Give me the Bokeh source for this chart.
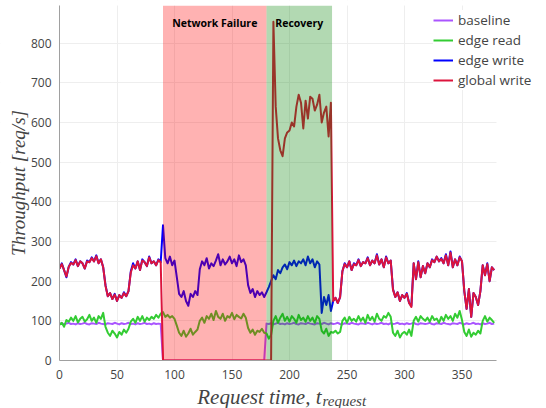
from bokeh.plotting import figure
from bokeh.models import (Range1d, BoxAnnotation, Label, Legend, LegendItem,
                          ColumnDataSource, FixedTicker)
from bokeh.embed import file_html
from bokeh.resources import INLINE

# ---------------- data ----------------
time = list(range(0, 380, 2))

baseline = [
    92, 94, 91, 93, 95, 92, 93, 91, 94, 92,
    93, 95, 92, 91, 94, 93, 92, 95, 93, 92,
    91, 94, 93, 92, 95, 93, 91, 94, 92, 93,
    95, 92, 93, 91, 94, 92, 93, 95, 92, 93,
    91, 94, 92, 93, 92, 0, 0, 0, 0, 0,
    0, 0, 0, 0, 0, 0, 0, 0, 0, 0,
    0, 0, 0, 0, 0, 0, 0, 0, 0, 0,
    0, 0, 0, 0, 0, 0, 0, 0, 0, 0,
    0, 0, 0, 0, 0, 0, 0, 0, 0, 0,
    93, 92, 94, 91, 93, 95, 92, 93, 91, 94,
    92, 93, 95, 92, 91, 94, 93, 92, 95, 93,
    92, 91, 94, 93, 92, 95, 93, 91, 94, 92,
    93, 95, 92, 91, 94, 93, 92, 95, 93, 92,
    91, 94, 93, 92, 95, 93, 91, 94, 92, 93,
    95, 92, 93, 91, 94, 92, 93, 95, 92, 93,
    91, 94, 92, 93, 95, 92, 91, 94, 93, 92,
    93, 95, 92, 91, 94, 93, 92, 95, 93, 92,
    91, 94, 93, 92, 95, 93, 91, 94, 92, 93,
    95, 92, 93, 91, 94, 92, 93, 95, 92, 93,
]

edge_read = [
    90, 95, 85, 102, 98, 108, 100, 112, 96, 105,
    110, 98, 104, 115, 100, 108, 95, 112, 105, 120,
    85, 70, 62, 75, 68, 58, 72, 65, 78, 70,
    80, 98, 105, 95, 110, 100, 112, 98, 108, 102,
    110, 105, 115, 108, 118, 122, 110, 115, 108, 112,
    105, 88, 70, 62, 75, 60, 68, 80, 65, 72,
    78, 100, 108, 95, 112, 105, 118, 102, 125, 110,
    105, 118, 100, 112, 108, 120, 104, 115, 110, 106,
    118, 108, 82, 70, 78, 65, 75, 72, 80, 70,
    68, 55, 65, 100, 112, 95, 108, 118, 100, 110,
    98, 112, 105, 95, 115, 102, 108, 98, 112, 100,
    108, 95, 112, 105, 75, 68, 80, 62, 72, 70,
    75, 68, 72, 100, 108, 95, 110, 100, 105, 98,
    112, 100, 108, 95, 115, 102, 110, 98, 118, 105,
    100, 112, 108, 120, 110, 70, 62, 75, 58, 68,
    72, 65, 78, 62, 100, 110, 98, 112, 105, 100,
    108, 98, 112, 102, 106, 95, 110, 100, 115, 105,
    112, 100, 118, 108, 125, 102, 72, 62, 78, 60,
    70, 65, 75, 68, 100, 112, 98, 108, 102, 95,
]

edge_write = [
    232, 245, 228, 210, 236, 248, 242, 255, 238, 250,
    245, 232, 252, 248, 260, 250, 265, 245, 255, 235,
    190, 162, 170, 155, 168, 150, 165, 158, 172, 162,
    175, 225, 245, 232, 250, 228, 255, 248, 238, 262,
    245, 250, 240, 255, 248, 341, 258, 245, 262, 240,
    252, 210, 168, 160, 175, 150, 138, 168, 160, 175,
    165, 230, 250, 240, 258, 232, 245, 238, 252, 268,
    240, 255, 242, 250, 262, 245, 255, 238, 265, 248,
    255, 240, 190, 170, 180, 160, 175, 165, 172, 160,
    172, 185, 200, 215, 205, 228, 220, 235, 242, 230,
    248, 240, 252, 238, 250, 245, 255, 240, 262, 245,
    255, 235, 250, 242, 120, 160, 140, 165, 125, 150,
    158, 145, 160, 225, 245, 235, 250, 228, 245, 240,
    255, 238, 248, 245, 260, 240, 252, 245, 268, 242,
    255, 235, 262, 245, 252, 180, 160, 172, 150, 165,
    158, 170, 145, 138, 245, 205, 250, 210, 238, 220,
    245, 235, 255, 248, 262, 250, 258, 245, 268, 240,
    275, 235, 255, 240, 262, 250, 175, 130, 180, 110,
    170, 160, 140, 175, 240, 215, 245, 200, 235, 228,
]

global_write = [
    232, 243, 228, 212, 236, 246, 242, 253, 238, 250,
    245, 232, 250, 248, 258, 250, 263, 245, 255, 235,
    188, 162, 170, 155, 166, 150, 165, 158, 170, 162,
    175, 222, 240, 232, 250, 228, 252, 248, 238, 260,
    245, 250, 240, 253, 248, 0, 0, 0, 0, 0,
    0, 0, 0, 0, 0, 0, 0, 0, 0, 0,
    0, 0, 0, 0, 0, 0, 0, 0, 0, 0,
    0, 0, 0, 0, 0, 0, 0, 0, 0, 0,
    0, 0, 0, 0, 0, 0, 0, 0, 0, 0,
    0, 0, 0, 854, 640, 560, 530, 515, 560, 575,
    580, 600, 590, 640, 670, 650, 585, 655, 610, 665,
    660, 630, 645, 670, 600, 625, 640, 565, 650, 150,
    158, 145, 160, 225, 243, 235, 250, 228, 243, 240,
    253, 238, 248, 245, 258, 240, 252, 245, 265, 242,
    255, 235, 260, 245, 252, 178, 160, 172, 150, 165,
    158, 168, 145, 135, 245, 205, 248, 210, 238, 220,
    245, 235, 253, 248, 262, 250, 256, 245, 265, 240,
    272, 235, 255, 240, 260, 250, 175, 130, 180, 110,
    170, 160, 140, 175, 240, 215, 243, 200, 235, 228,
]

series_names = ["baseline", "edge read", "edge write", "global write"]
series_keys = ["baseline", "edge_read", "edge_write", "global_write"]
series_colors = ["#aa55ff", "#33cc33", "#0000ff", "#dc143c"]

failure_span = (90, 180)
recovery_span = (180, 237)
failure_text = "Network Failure"
recovery_text = "Recovery"
label_y = 850

x_max = 380
y_max = 895
x_ticks = [0, 50, 100, 150, 200, 250, 300, 350]
y_ticks = [0, 100, 200, 300, 400, 500, 600, 700, 800]

# ---------------- layout (pixels) ----------------
W, H = 546, 408
left_px = 59          # x = 0 lands here
top_px = 5            # y = y_max lands here
plot_w = 437          # pixel width of the data area (0..x_max)
plot_h = 355          # pixel height of the data area (0..y_max)

# the frame covers the whole canvas; axes sit at fixed locations inside it
px_x = plot_w / x_max
px_y = plot_h / y_max
x_start = -left_px / px_x
x_end = (W - left_px) / px_x
y_end = y_max + top_px / px_y
y_start = -(H - top_px - plot_h) / px_y

src = ColumnDataSource(dict(time=time, baseline=baseline, edge_read=edge_read,
                            edge_write=edge_write, global_write=global_write))

p = figure(width=W, height=H, output_backend="svg", toolbar_location=None,
           x_range=Range1d(x_start, x_end), y_range=Range1d(y_start, y_end),
           min_border_left=0, min_border_right=0,
           min_border_top=0, min_border_bottom=0)
p.outline_line_color = None
p.background_fill_color = "white"

renderers = []
for key, col in zip(series_keys, series_colors):
    r = p.line(x="time", y=key, source=src, line_color=col, line_width=2,
               line_join="round")
    renderers.append(r)

# shaded periods (drawn over the lines, like the original)
p.add_layout(BoxAnnotation(left=failure_span[0], right=failure_span[1],
                           bottom=0, top=y_max,
                           fill_color="#ff0000", fill_alpha=0.3, line_color=None))
p.add_layout(BoxAnnotation(left=recovery_span[0], right=recovery_span[1],
                           bottom=0, top=y_max,
                           fill_color="#008000", fill_alpha=0.3, line_color=None))

# white masks outside the data area
for kw in (dict(left=x_max), dict(top=0), dict(right=0), dict(bottom=y_max)):
    p.add_layout(BoxAnnotation(fill_color="white", fill_alpha=1.0,
                               line_color=None, **kw))

for txt, span in ((failure_text, failure_span), (recovery_text, recovery_span)):
    p.add_layout(Label(x=(span[0] + span[1]) / 2, y=label_y, text=txt,
                       text_align="center", text_baseline="middle",
                       text_font="Open Sans", text_font_style="bold",
                       text_font_size="10.5px", text_color="#000000"))

# axes
xa = p.xaxis[0]
ya = p.yaxis[0]
for ax in (xa, ya):
    ax.axis_line_color = "#a0a0a0"
    ax.axis_line_width = 1
    ax.major_tick_line_color = None
    ax.minor_tick_line_color = None
    ax.major_label_text_font = "Open Sans"
    ax.major_label_text_font_size = "12px"
    ax.major_label_text_color = "#444444"
    ax.major_label_standoff = 3
    ax.fixed_location = 0
    ax.level = "overlay"

xa.ticker = FixedTicker(ticks=x_ticks)
xa.bounds = (0, x_max)

ya.ticker = FixedTicker(ticks=y_ticks)
ya.bounds = (0, y_max)
ya.major_label_standoff = 2
ya.axis_label = "Throughput [req/s]"
ya.axis_label_text_font = "Liberation Serif"
ya.axis_label_text_font_style = "italic"
ya.axis_label_text_font_size = "19px"
ya.axis_label_text_color = "#444444"
ya.axis_label_standoff = -1

p.xgrid.grid_line_color = "#eeeeee"
p.ygrid.grid_line_color = "#eeeeee"
p.xgrid.ticker = FixedTicker(ticks=x_ticks)
p.ygrid.ticker = FixedTicker(ticks=y_ticks)

# x-axis title: main text + subscript (screen px from the canvas bottom-left)
title_x = 321
p.add_layout(Label(x=title_x, y=12, x_units="screen", y_units="screen",
                   text="Request time, t", text_align="right",
                   text_baseline="alphabetic", text_font="Liberation Serif",
                   text_font_style="italic", text_font_size="21px",
                   text_color="#444444"))
p.add_layout(Label(x=title_x + 1, y=8, x_units="screen", y_units="screen",
                   text="request", text_align="left",
                   text_baseline="alphabetic", text_font="Liberation Serif",
                   text_font_style="italic", text_font_size="15px",
                   text_color="#444444"))

legend = Legend(items=[LegendItem(label=n, renderers=[r])
                       for n, r in zip(series_names, renderers)],
                location=(433, H - 90), orientation="vertical",
                padding=4, margin=0, spacing=0,
                glyph_width=20, glyph_height=20, label_height=20,
                label_standoff=5,
                label_text_font="Open Sans", label_text_font_size="13.5px",
                label_text_color="#444444",
                background_fill_color="white", background_fill_alpha=1.0,
                border_line_color=None)
p.add_layout(legend, "center")

open("out.html", "w").write(file_html(p, INLINE))
